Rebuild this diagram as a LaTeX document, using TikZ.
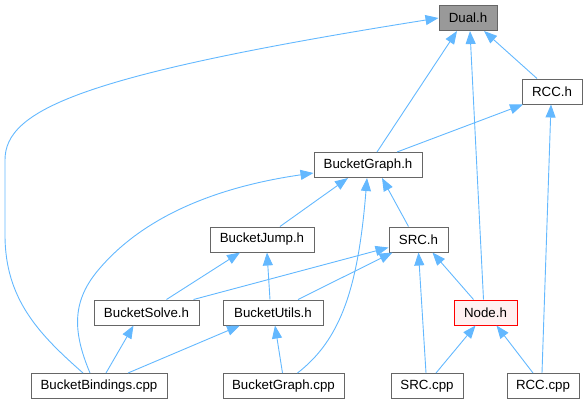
\documentclass[tikz,border=0pt]{standalone}
\usepackage{fontspec}
\setmainfont{Liberation Sans}
\usetikzlibrary{arrows.meta}
\definecolor{edgeblue}{HTML}{63B8FF}
\definecolor{boxgray}{HTML}{666666}
\definecolor{dualfill}{HTML}{999999}
\definecolor{nodepink}{HTML}{FFF0F0}
\begin{document}
\begin{tikzpicture}[x=1pt,y=-1pt,
  box/.style={draw=boxgray,fill=white,line width=1pt,inner sep=0pt,minimum height=25pt,font=\fontsize{13.3}{16}\selectfont},
  dep/.style={draw=edgeblue,line width=0.9pt,-{Triangle[length=13pt,width=10pt]}}]
\useasboundingbox (0,0) rectangle (587,405);
\node[box,fill=dualfill,minimum width=58pt] (dual) at (468,18) {Dual.h};
\node[box,minimum width=60pt] (rcc) at (552,91.5) {RCC.h};
\node[box,minimum width=108pt] (bgh) at (368,165) {BucketGraph.h};
\node[box,minimum width=104pt] (bjump) at (262,239.5) {BucketJump.h};
\node[box,minimum width=59pt] (srch) at (418.5,239.5) {SRC.h};
\node[box,minimum width=105pt] (bsolve) at (146.5,312.5) {BucketSolve.h};
\node[box,minimum width=100pt] (butils) at (273,312.5) {BucketUtils.h};
\node[box,draw=red,fill=nodepink,minimum width=63pt] (nodeh) at (485.5,312.5) {Node.h};
\node[box,minimum width=136pt] (bbind) at (99,386) {BucketBindings.cpp};
\node[box,minimum width=121pt] (bgcpp) at (283.5,386) {BucketGraph.cpp};
\node[box,minimum width=72pt] (srccpp) at (427,386) {SRC.cpp};
\node[box,minimum width=72pt] (rcccpp) at (543,386) {RCC.cpp};
\draw[dep] ([xshift=-16pt]bbind.north) .. controls (40,335) and (5,300) .. (5,235) -- (5,160) .. controls (5,110) and (80,75) .. (dual.west);
\draw[dep] ([xshift=9pt]bgh.north) -- ([xshift=-11pt]dual.south);
\draw[dep] ([xshift=-2pt]nodeh.north) -- ([xshift=2pt]dual.south);
\draw[dep] ([xshift=-15pt]rcc.north) -- ([xshift=16pt]dual.south);
\draw[dep] ([xshift=29pt]bgh.north) -- ([xshift=-29pt]rcc.south);
\draw[dep] ([xshift=-1pt]rcccpp.north) -- ([xshift=-1pt]rcc.south);
\draw[dep] ([xshift=18pt]bjump.north) -- ([xshift=-20pt]bgh.south);
\draw[dep] ([xshift=-10pt]srch.north) -- ([xshift=14pt]bgh.south);
\draw[dep] ([xshift=-9pt]bbind.north) .. controls (72,330) and (72,300) .. (100,268) .. controls (150,210) and (230,185) .. ([yshift=-8pt]bgh.west);
\draw[dep] ([xshift=14pt]bgcpp.north) .. controls (340,340) and (358,290) .. ([xshift=-1pt]bgh.south);
\draw[dep] ([xshift=20pt]bsolve.north) -- ([xshift=-22pt]bjump.south);
\draw[dep] ([xshift=-3pt]butils.north) -- ([xshift=5pt]bjump.south);
\draw[dep] ([xshift=47pt]bsolve.north) -- ([yshift=-8pt]srch.west);
\draw[dep] ([xshift=25pt]butils.north) -- ([xshift=-26pt]srch.south);
\draw[dep] ([xshift=-12pt]nodeh.north) -- ([xshift=14pt]srch.south);
\draw[dep] ([xshift=-1pt]srccpp.north) -- (srch.south);
\draw[dep] ([xshift=7pt]bbind.north) -- ([xshift=-13pt]bsolve.south);
\draw[dep] ([xshift=29pt]bbind.north) -- ([xshift=-33pt]butils.south);
\draw[dep] ([xshift=-1pt]bgcpp.north) -- ([xshift=2pt]butils.south);
\draw[dep] ([xshift=9pt]srccpp.north) -- ([xshift=-10pt]nodeh.south);
\draw[dep] ([xshift=-10pt]rcccpp.north) -- ([xshift=11pt]nodeh.south);
\end{tikzpicture}
\end{document}
